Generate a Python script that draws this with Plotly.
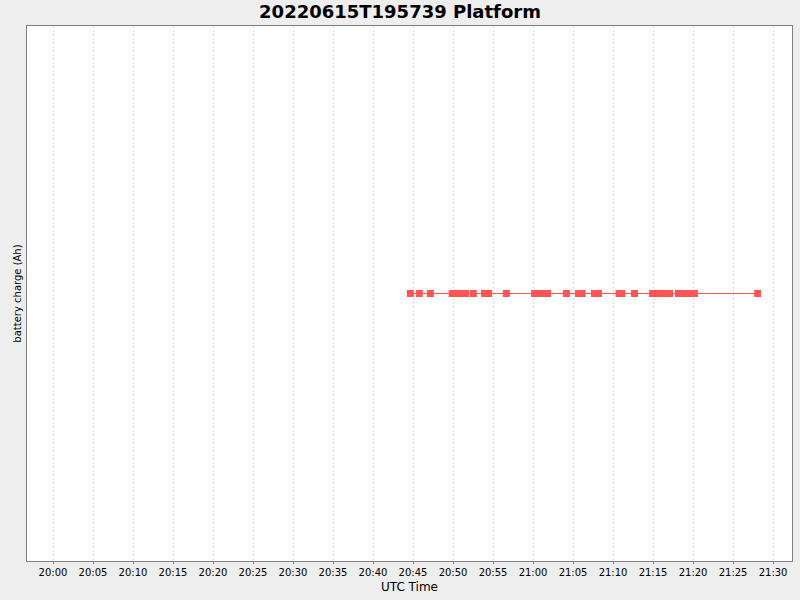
import plotly.graph_objects as go

DAY = '2022-06-15'

# sample times (UTC)
sample_times = [
    '20:44:40', '20:45:47', '20:47:10', '20:49:54', '20:50:18', '20:50:42',
    '20:51:06', '20:51:34', '20:52:32', '20:53:56', '20:54:26', '20:56:40',
    '21:00:11', '21:00:36', '21:01:00', '21:01:24', '21:01:49', '21:04:10',
    '21:05:41', '21:06:08', '21:07:41', '21:08:11', '21:10:45', '21:11:06',
    '21:12:41', '21:14:56', '21:15:24', '21:15:54', '21:16:30', '21:17:04',
    '21:18:11', '21:18:42', '21:19:12', '21:19:42', '21:20:11', '21:28:04',
]
# battery charge stays flat for the whole run
battery_charge = [0.0] * len(sample_times)

x_range = ['19:56:45', '21:32:22']


def main():
    xs = [DAY + ' ' + t for t in sample_times]

    fig = go.Figure()
    fig.add_trace(go.Scatter(
        x=xs, y=battery_charge, mode='lines+markers', name='battery charge',
        line=dict(color='#FF5555', width=1),
        marker=dict(symbol='square', size=7, color='#FF5555'),
    ))

    fig.update_layout(
        width=800, height=600,
        paper_bgcolor='#EEEEEE', plot_bgcolor='white',
        font=dict(family='DejaVu Sans', color='black'),
        margin=dict(l=27, r=8, t=26, b=39, autoexpand=False),
        showlegend=False,
        title=dict(text='<b>20220615T195739 Platform</b>', x=0.5, xanchor='center',
                   yref='container', y=0.98, yanchor='middle', font=dict(size=18)),
    )
    fig.update_xaxes(
        type='date', range=[DAY + ' ' + x_range[0], DAY + ' ' + x_range[1]],
        dtick=300000, tick0=DAY + ' 20:00:00', tickformat='%H:%M',
        tickfont=dict(size=10), ticks='outside', ticklen=2, tickcolor='#808080',
        showgrid=True, gridcolor='#DCDCDC', griddash='2px,2px', gridwidth=1,
        showline=True, linecolor='#808080', mirror=True,
        title=dict(text='UTC Time', font=dict(size=12), standoff=5),
    )
    fig.update_yaxes(
        range=[-1, 1], showticklabels=False, ticks='', showgrid=False,
        zeroline=False, showline=True, linecolor='#808080', mirror=True,
        title=dict(text='battery charge (Ah)', font=dict(size=10), standoff=2),
    )

    # drop the default page margin so the 800x600 figure fills the window
    fig.write_html('out.html', config={'displayModeBar': False},
                   post_script="document.body.style.margin='0';"
                               "document.body.style.background='#EEEEEE';")


if __name__ == '__main__':
    main()
